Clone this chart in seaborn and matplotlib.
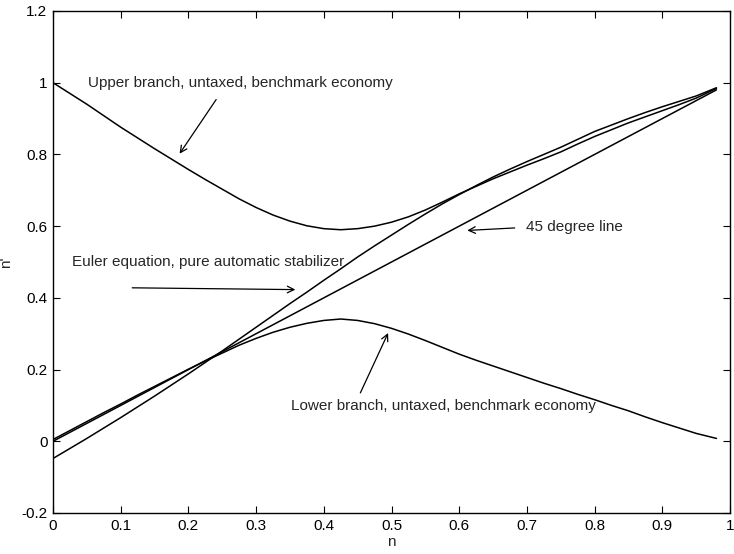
import matplotlib
matplotlib.use("Agg")
import matplotlib.pyplot as plt
import seaborn as sns
import pandas as pd

# ---- data ----
n_grid = [0.0, 0.025, 0.05, 0.075, 0.1, 0.125, 0.15, 0.175, 0.2, 0.225,
          0.25, 0.275, 0.3, 0.325, 0.35, 0.375, 0.4, 0.425, 0.45, 0.475,
          0.5, 0.525, 0.55, 0.575, 0.6, 0.625, 0.65, 0.675, 0.7, 0.725,
          0.75, 0.775, 0.8, 0.825, 0.85, 0.875, 0.9, 0.925, 0.95, 0.98]

upper_branch = [1.0, 0.970, 0.940, 0.908, 0.876, 0.846, 0.816, 0.787, 0.758, 0.730,
                0.703, 0.676, 0.652, 0.631, 0.614, 0.601, 0.593, 0.590, 0.593, 0.600,
                0.611, 0.626, 0.645, 0.667, 0.690, 0.711, 0.732, 0.751, 0.770, 0.788,
                0.807, 0.829, 0.850, 0.869, 0.888, 0.905, 0.922, 0.939, 0.957, 0.984]

lower_branch = [0.005, 0.030, 0.055, 0.080, 0.104, 0.129, 0.153, 0.177, 0.201, 0.224,
                0.246, 0.268, 0.287, 0.304, 0.318, 0.329, 0.337, 0.341, 0.337, 0.328,
                0.315, 0.299, 0.281, 0.262, 0.243, 0.226, 0.210, 0.194, 0.178, 0.162,
                0.147, 0.131, 0.116, 0.100, 0.085, 0.068, 0.052, 0.037, 0.022, 0.008]

euler_eq = [-0.048, -0.020, 0.008, 0.037, 0.066, 0.096, 0.126, 0.157, 0.188, 0.220,
            0.252, 0.285, 0.318, 0.351, 0.384, 0.416, 0.449, 0.481, 0.514, 0.545,
            0.575, 0.605, 0.634, 0.662, 0.688, 0.713, 0.737, 0.759, 0.780, 0.800,
            0.820, 0.842, 0.864, 0.882, 0.900, 0.917, 0.933, 0.948, 0.963, 0.986]

line45_x = [0.0, 0.98]
line45_y = [0.0, 0.98]

x_ticks = [0, 0.1, 0.2, 0.3, 0.4, 0.5, 0.6, 0.7, 0.8, 0.9, 1]
x_ticklabels = ["0", "0.1", "0.2", "0.3", "0.4", "0.5", "0.6", "0.7", "0.8", "0.9", "1"]
y_ticks = [-0.2, 0, 0.2, 0.4, 0.6, 0.8, 1, 1.2]
y_ticklabels = ["-0.2", "0", "0.2", "0.4", "0.6", "0.8", "1", "1.2"]

annotations = [
    ("Upper branch, untaxed, benchmark economy", (0.0517, 1.0), (0.241, 0.953), (0.187, 0.802)),
    ("Euler equation, pure automatic stabilizer", (0.0275, 0.50), (0.117, 0.428), (0.358, 0.423)),
    ("45 degree line", (0.699, 0.597), (0.682, 0.595), (0.612, 0.588)),
    ("Lower branch, untaxed, benchmark economy", (0.352, 0.098), (0.454, 0.135), (0.495, 0.302)),
]

# ---- plotting ----
sns.set_theme(style="ticks")
plt.rcParams['font.family'] = ['Liberation Sans', 'DejaVu Sans']

fig = plt.figure(figsize=(7.34, 5.54), dpi=100)
ax = fig.add_axes([53/734, 41/554, 677/734, 502/554])

df = pd.concat([
    pd.DataFrame({"n": n_grid, "np": upper_branch, "s": "upper"}),
    pd.DataFrame({"n": n_grid, "np": lower_branch, "s": "lower"}),
    pd.DataFrame({"n": n_grid, "np": euler_eq, "s": "euler"}),
    pd.DataFrame({"n": line45_x, "np": line45_y, "s": "45"}),
])
for s, g in df.groupby("s", sort=False):
    sns.lineplot(data=g, x="n", y="np", color="black", linewidth=1.1,
                 sort=False, estimator=None, ax=ax)

ax.set_xlim(0, 1)
ax.set_ylim(-0.2, 1.2)
ax.set_xticks(x_ticks)
ax.set_xticklabels(x_ticklabels)
ax.set_yticks(y_ticks)
ax.set_yticklabels(y_ticklabels)
ax.tick_params(direction="in", length=5, width=0.8, top=True, right=True,
               labelsize=11, colors="black", pad=4)
for sp in ax.spines.values():
    sp.set_visible(True)
    sp.set_linewidth(1.0)
    sp.set_color("black")
ax.set_xlabel("n", fontsize=11, labelpad=2)
ax.set_ylabel("n'", fontsize=11, labelpad=6)

for text, tpos, tail, head in annotations:
    ax.text(tpos[0], tpos[1], text, fontsize=11, ha="left", va="center")
    ax.annotate("", xy=head, xytext=tail,
                arrowprops=dict(arrowstyle="->", color="black", lw=0.9,
                                shrinkA=0, shrinkB=0, mutation_scale=12))

fig.savefig("out.png", dpi=100)
